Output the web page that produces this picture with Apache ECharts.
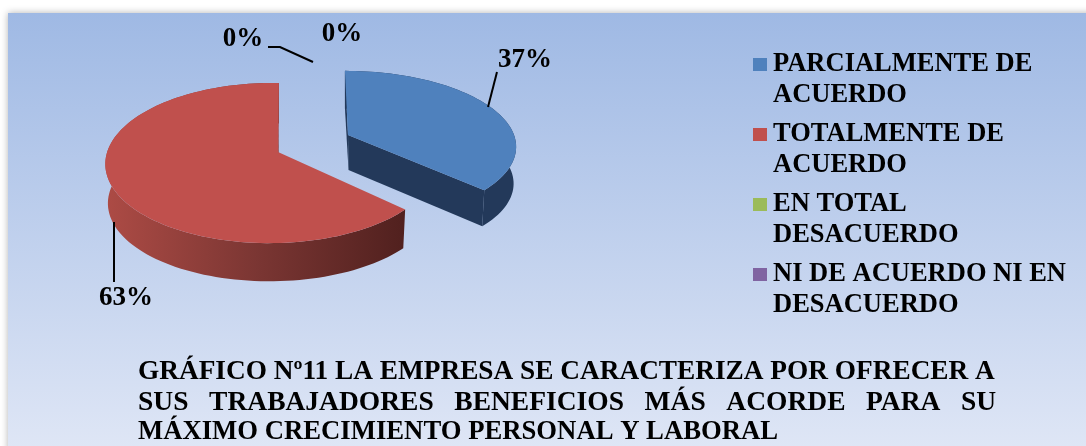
<!DOCTYPE html>
<html>
<head>
<meta charset="utf-8">
<style>
  html, body { margin: 0; padding: 0; background: #fff; }
  #chart { width: 1086px; height: 446px; }
</style>
<script src="https://cdn.jsdelivr.net/npm/echarts@6/dist/echarts.min.js"></script>
</head>
<body>
<div id="chart"></div>
<script>
// datos del grafico
const categories = ['PARCIALMENTE DE\nACUERDO', 'TOTALMENTE DE\nACUERDO', 'EN TOTAL\nDESACUERDO', 'NI DE ACUERDO NI EN\nDESACUERDO'];
const values = [37, 63, 0, 0];
const titleLines = [
  'GRÁFICO Nº11 LA EMPRESA SE CARACTERIZA POR OFRECER A',
  'SUS   TRABAJADORES   BENEFICIOS   MÁS   ACORDE   PARA   SU',
  'MÁXIMO CRECIMIENTO PERSONAL Y LABORAL',
];

const colors = ['#4F81BD', '#C0504D', '#9BBB59', '#8064A2'];
const titleSizes = [27.3, 27.5, 26.7];
const total = values.reduce((a, b) => a + b, 0);
const serif = '"Liberation Serif", serif';

// perspectiva de cada porcion: vertice, radio, inclinacion
const slices = [
  { cx: 348, cy: 135, r: 166, kr: 73, p: 0.138, q: 0, skew: -3.5, depth: 37, label: [525, 60] },
  { cx: 278, cy: 152, r: 164, kr: 78.5, p: 0.138, q: 0.04, skew: 1, depth: 39.5, label: [126, 298] },
  { label: [243, 39] },
  { label: [342, 34] },
];
const leaders = [
  [[497, 72], [488, 107]],
  [[114, 222], [114, 282]],
  [[268, 47], [280, 47], [313, 62]],
  null,
];

function project(s, deg, low) {
  const t = (deg * Math.PI) / 180;
  const w = 1 + s.p * Math.cos(t) + s.q * Math.sin(t);
  const f = low ? 0.985 : 1;
  return [
    s.cx + (f * (s.r * Math.sin(t) + s.skew * Math.cos(t))) / w,
    s.cy + (low ? s.depth : 0) - (f * s.kr * Math.cos(t)) / w,
  ];
}

function arcPoints(s, from, to, low) {
  const pts = [];
  const n = Math.max(2, Math.ceil(Math.abs(to - from) / 2));
  for (let i = 0; i <= n; i++) pts.push(project(s, from + ((to - from) * i) / n, low));
  return pts;
}

function wallFill(idx) {
  if (idx === 0) return '#23395A';
  return new echarts.graphic.LinearGradient(105, 0, 407, 0, [
    { offset: 0, color: '#AD4B45' },
    { offset: 0.5, color: '#7B3633' },
    { offset: 1, color: '#50201E' },
  ], true);
}

function poly(points, fill) {
  return { type: 'polygon', shape: { points }, style: { fill } };
}

function makeRender(idx) {
  return function (params, api) {
    const value = api.value(0);
    const start = (values.slice(0, idx).reduce((a, b) => a + b, 0) / total) * 360;
    const end = start + (value / total) * 360;
    const children = [];
    const s = slices[idx];

    if (value > 0) {
      const apex = [s.cx, s.cy];
      const apexLow = [s.cx + 0.5, s.cy + s.depth - 2];
      const top = arcPoints(s, start, end, false);
      const low = arcPoints(s, start, end, true);
      // paredes y cara superior
      children.push(poly(top.concat(low.slice().reverse()), wallFill(idx)));
      if (idx === 0) {
        children.push(poly([apex, top[0], low[0], apexLow], '#23395A'));
        children.push(poly([apex, top[top.length - 1], low[low.length - 1], apexLow], '#23395A'));
      } else {
        children.push(poly([apex, top[top.length - 1], low[low.length - 1], apexLow], '#8F3B38'));
      }
      children.push(poly([apex].concat(top), colors[idx]));
    }

    if (leaders[idx]) {
      children.push({
        type: 'polyline',
        shape: { points: leaders[idx] },
        style: { fill: 'none', stroke: '#000', lineWidth: 2 },
      });
    }
    children.push({
      type: 'text',
      style: {
        text: Math.round((value / total) * 100) + '%',
        x: s.label[0],
        y: s.label[1],
        align: 'center',
        verticalAlign: 'middle',
        fontFamily: serif,
        fontWeight: 'bold',
        fontSize: 27,
        fill: '#000',
      },
    });
    return { type: 'group', children };
  };
}

const chart = echarts.init(document.getElementById('chart'));

chart.setOption({
  backgroundColor: '#fff',
  animation: false,
  graphic: [
    {
      type: 'rect',
      z: -10,
      shape: { x: 8, y: 13, width: 1090, height: 445 },
      style: {
        fill: new echarts.graphic.LinearGradient(0, 0, 0, 1, [
          { offset: 0, color: '#9FB9E4' },
          { offset: 1, color: '#E0E7F6' },
        ]),
        shadowBlur: 7,
        shadowColor: 'rgba(0,0,0,0.3)',
      },
    },
  ].concat(titleLines.map((line, i) => ({
    type: 'text',
    z: 5,
    left: 138,
    top: 358 + i * 30.5,
    style: {
      text: line,
      fontFamily: serif,
      fontWeight: 'bold',
      fontSize: titleSizes[i],
      fill: '#000',
    },
  }))),
  legend: {
    orient: 'vertical',
    left: 753,
    top: 49,
    itemWidth: 15,
    itemHeight: 62,
    itemGap: 8,
    selectedMode: false,
    icon: 'path://M0 0L0 0ZM0 9L14 9L14 22L0 22ZM15 62L15 62Z',
    data: categories,
    textStyle: {
      fontFamily: serif,
      fontWeight: 'bold',
      fontSize: 26.5,
      lineHeight: 31,
      color: '#000',
    },
    padding: 0,
  },
  series: categories.map((name, i) => ({
    type: 'custom',
    name,
    coordinateSystem: 'none',
    renderItem: makeRender(i),
    data: [[values[i]]],
    itemStyle: { color: colors[i] },
    silent: true,
  })),
});
</script>
</body>
</html>
